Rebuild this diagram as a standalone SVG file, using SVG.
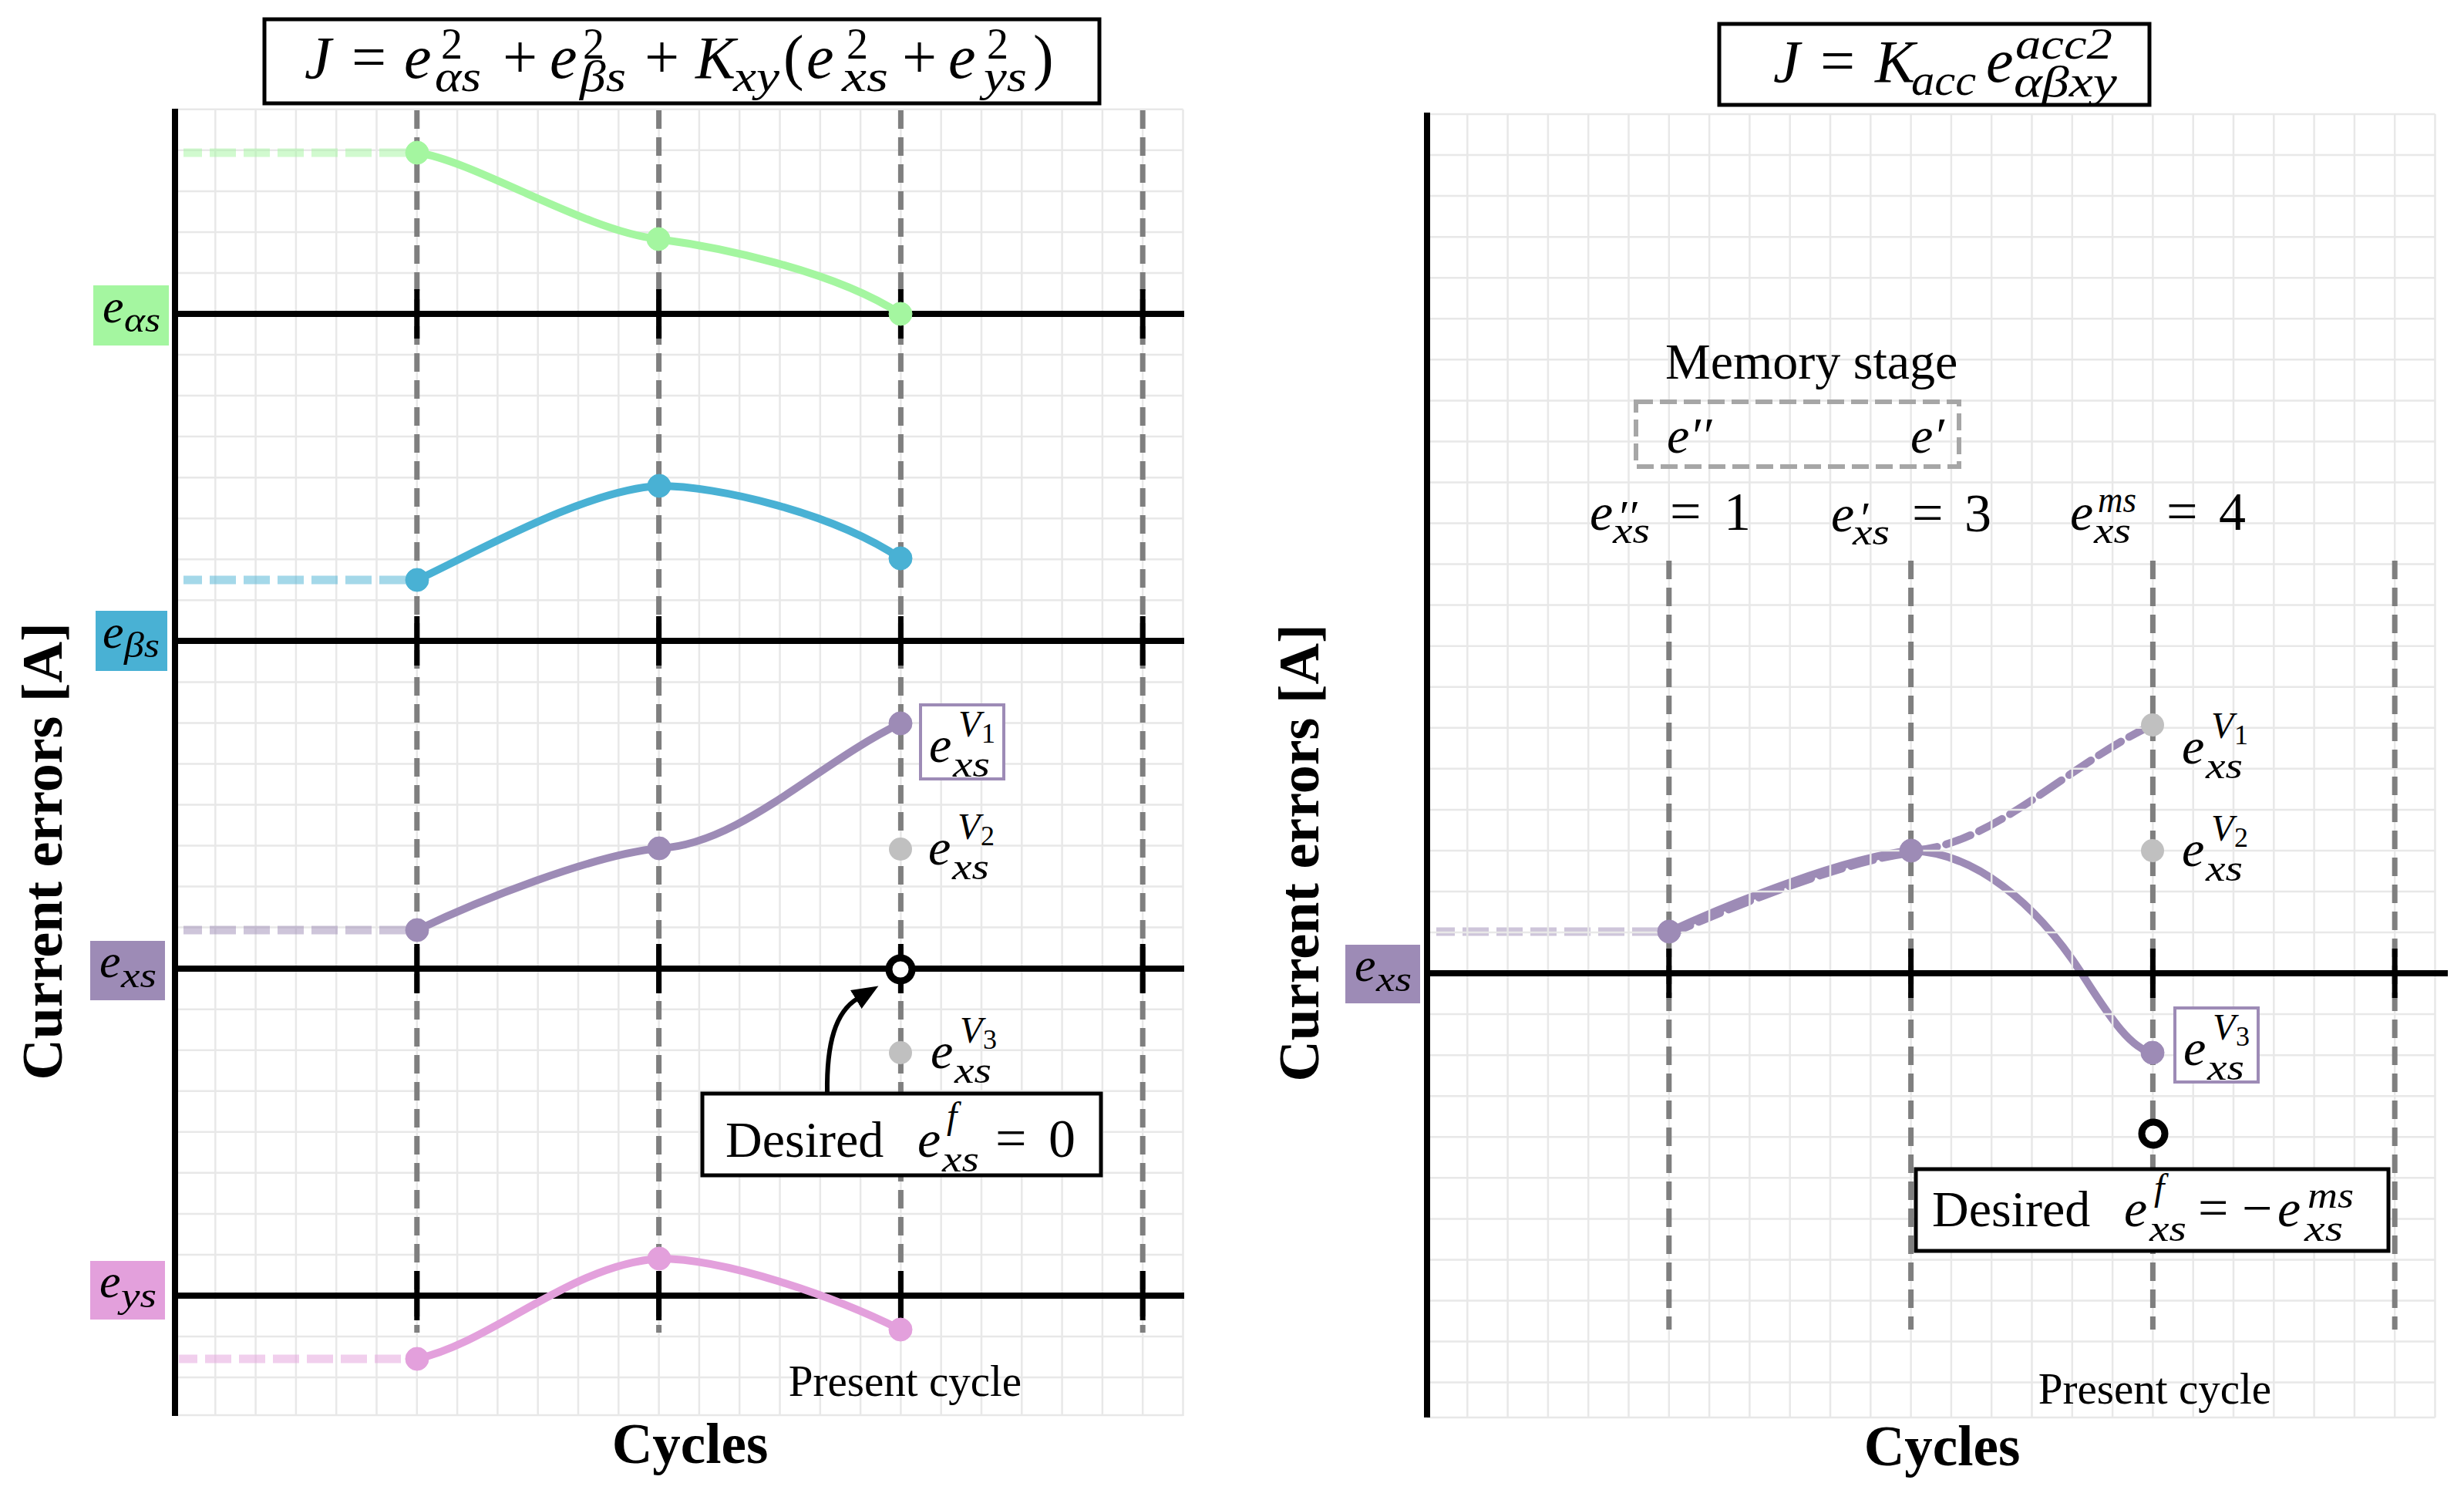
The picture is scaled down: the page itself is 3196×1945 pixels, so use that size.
<svg xmlns="http://www.w3.org/2000/svg" width="3196" height="1945" viewBox="0 0 3196 1945">
<style>
.grid{stroke:#e8e8e8;stroke-width:2.5;fill:none}
.axis{stroke:#000;stroke-width:8;fill:none}
.tick{stroke:#000;stroke-width:7;fill:none}
.vd{stroke:#7f7f7f;stroke-width:7;stroke-dasharray:24 11;fill:none}
.lead{stroke-width:11;stroke-dasharray:34 10;stroke-dashoffset:10;opacity:.5;fill:none}
.cv{fill:none;stroke-width:10;stroke-linecap:round}
.m{font-family:"Liberation Serif","DejaVu Serif",serif;font-style:italic;fill:#000}
.r{font-family:"Liberation Serif","DejaVu Serif",serif;fill:#000}
.b{font-family:"Liberation Serif","DejaVu Serif",serif;font-weight:bold;fill:#000}
.box{fill:#fff;stroke:#000;stroke-width:5}
.vbox{fill:#fff;stroke:#9d8bb6;stroke-width:4}
.g{fill:#a4f6a0;stroke:#a4f6a0}
.bl{fill:#49b1d4;stroke:#49b1d4}
.pu{fill:#9d8bb6;stroke:#9d8bb6}
.pk{fill:#e3a0dc;stroke:#e3a0dc}
.gd{fill:#c0c0c0}
.oc{fill:#fff;stroke:#000;stroke-width:9}
</style>
<defs>
<marker id="ah" markerUnits="userSpaceOnUse" markerWidth="40" markerHeight="40" viewBox="0 0 40 40" refX="2" refY="20" orient="auto">
<path d="M0,6 L34,20 L0,34 z" fill="#000"/>
</marker>
</defs>
<rect width="3196" height="1945" fill="#fff"/>

<g id="left-panel">
<path class="grid" d="M279.3 142V1836M331.6 142V1836M383.9 142V1836M436.2 142V1836M488.5 142V1836M540.8 142V1836M593.1 142V1836M645.4 142V1836M697.7 142V1836M750 142V1836M802.3 142V1836M854.6 142V1836M906.9 142V1836M959.2 142V1836M1011.5 142V1836M1063.8 142V1836M1116.1 142V1836M1168.4 142V1836M1220.7 142V1836M1273 142V1836M1325.3 142V1836M1377.6 142V1836M1429.9 142V1836M1482.2 142V1836M1534.5 142V1836
M227 141.8H1534.5M227 194.8H1534.5M227 247.9H1534.5M227 300.9H1534.5M227 354H1534.5M227 460H1534.5M227 513.1H1534.5M227 566.1H1534.5M227 619.2H1534.5M227 672.2H1534.5M227 725.2H1534.5M227 778.3H1534.5M227 884.4H1534.5M227 937.4H1534.5M227 990.4H1534.5M227 1043.5H1534.5M227 1096.5H1534.5M227 1149.6H1534.5M227 1202.6H1534.5M227 1308.7H1534.5M227 1361.7H1534.5M227 1414.8H1534.5M227 1467.8H1534.5M227 1520.8H1534.5M227 1573.9H1534.5M227 1626.9H1534.5M227 1733H1534.5M227 1786H1534.5M227 1835H1534.5"/>
<path class="vd" d="M540.8 143V1728M854.6 143V1728M1168.4 143V1728M1482.2 143V1728"/>
<path class="axis" d="M227 141V1836M227 407H1536M227 831H1536M227 1256H1536M227 1680H1536"/>
<path class="tick" d="M540.8 375V439M854.6 375V439M1168.4 375V439M1482.2 375V439M540.8 799V863M854.6 799V863M1168.4 799V863M1482.2 799V863M540.8 1224V1288M854.6 1224V1288M1168.4 1224V1288M1482.2 1224V1288M540.8 1648V1712M854.6 1648V1712M1168.4 1648V1712M1482.2 1648V1712"/>
</g>

<g id="formula-left">
<rect class="box" x="343" y="25" width="1083" height="109"/>
<text class="m" x="395" y="101" font-size="78">J</text>
<text class="r" x="456" y="101" font-size="80">=</text>
<text class="m" x="524" y="101" font-size="80">e</text>
<text class="r" x="572" y="76" font-size="56">2</text>
<text class="m" x="564" y="118" font-size="56" textLength="60" lengthAdjust="spacingAndGlyphs">αs</text>
<text class="r" x="652" y="101" font-size="80">+</text>
<text class="m" x="713" y="101" font-size="80">e</text>
<text class="r" x="756" y="76" font-size="56">2</text>
<text class="m" x="752" y="118" font-size="56" textLength="60" lengthAdjust="spacingAndGlyphs">βs</text>
<text class="r" x="836" y="101" font-size="80">+</text>
<text class="m" x="902" y="101" font-size="78">K</text>
<text class="m" x="951" y="118" font-size="56" textLength="60" lengthAdjust="spacingAndGlyphs">xy</text>
<text class="r" x="1016" y="101" font-size="80">(</text>
<text class="m" x="1046" y="101" font-size="80">e</text>
<text class="r" x="1098" y="76" font-size="56">2</text>
<text class="m" x="1092" y="118" font-size="56" textLength="60" lengthAdjust="spacingAndGlyphs">xs</text>
<text class="r" x="1170" y="101" font-size="80">+</text>
<text class="m" x="1230" y="101" font-size="80">e</text>
<text class="r" x="1280" y="76" font-size="56">2</text>
<text class="m" x="1276" y="118" font-size="56" textLength="56" lengthAdjust="spacingAndGlyphs">ys</text>
<text class="r" x="1340" y="101" font-size="80">)</text>
</g>

<g id="label-eas"><rect x="121" y="370" width="98" height="78" fill="#a4f6a0"/><text class="m" x="133" y="418" font-size="62">e</text><text class="m" x="161" y="430" font-size="46" textLength="47" lengthAdjust="spacingAndGlyphs">αs</text></g>
<g id="label-ebs"><rect x="124" y="792" width="93" height="78" fill="#49b1d4"/><text class="m" x="133" y="840" font-size="62">e</text><text class="m" x="161" y="852" font-size="46" textLength="46" lengthAdjust="spacingAndGlyphs">βs</text></g>
<g id="label-exs-left"><rect x="117" y="1220" width="97" height="77" fill="#9d8bb6"/><text class="m" x="129" y="1267" font-size="62">e</text><text class="m" x="157" y="1280" font-size="46" textLength="46" lengthAdjust="spacingAndGlyphs">xs</text></g>
<g id="label-eys"><rect x="117" y="1635" width="97" height="76" fill="#e3a0dc"/><text class="m" x="129" y="1682" font-size="62">e</text><text class="m" x="157" y="1695" font-size="46" textLength="46" lengthAdjust="spacingAndGlyphs">ys</text></g>

<g id="lead-ins">
<path class="lead" stroke="#a4f6a0" d="M238 198H541"/>
<path class="lead" stroke="#49b1d4" d="M238 752H541"/>
<path class="lead" stroke="#9d8bb6" d="M238 1206H541"/>
<path class="lead" stroke="#e3a0dc" d="M232 1762H541"/>
<path class="lead" stroke="#9d8bb6" d="M1863 1208H2165"/>
</g>

<g id="connectors">
<path class="cv" stroke="#a4f6a0" d="M541,198 C615,208 760,300 854,310 C930,320 1080,350 1168,407"/>
<path class="cv" stroke="#49b1d4" d="M541,752 C620,715 760,635 855,630 C930,630 1080,665 1168,724"/>
<path class="cv" stroke="#9d8bb6" d="M541,1206 C620,1168 770,1108 855,1100 C960,1095 1060,990 1168,938"/>
<path class="cv" stroke="#e3a0dc" d="M541,1762 C640,1740 740,1640 855,1632 C940,1632 1080,1680 1168,1724"/>
<path class="cv" stroke="#9d8bb6" d="M2165,1208 C2245,1171 2395,1111 2479,1103 C2560,1105 2640,1170 2700,1262 C2740,1325 2765,1360 2792,1365"/>
<path class="cv" stroke="#9d8bb6" stroke-dasharray="30 12" stroke-linecap="butt" d="M2165,1212 C2245,1177 2395,1115 2479,1106"/>
<path class="cv" stroke="#9d8bb6" stroke-dasharray="34 12" stroke-linecap="butt" d="M2479,1103 C2584,1098 2684,990 2792,940"/>
<path d="M1073,1417 C1072,1352 1084,1312 1112,1295" fill="none" stroke="#000" stroke-width="6" marker-end="url(#ah)"/>
</g>

<g id="dots-left">
<circle class="g" cx="541" cy="198" r="15"/><circle class="g" cx="854" cy="310" r="15"/><circle class="g" cx="1168" cy="407" r="15"/>
<circle class="bl" cx="541" cy="752" r="15"/><circle class="bl" cx="855" cy="630" r="15"/><circle class="bl" cx="1168" cy="724" r="15"/>
<circle class="pu" cx="541" cy="1206" r="15"/><circle class="pu" cx="855" cy="1100" r="15"/><circle class="pu" cx="1168" cy="938" r="15"/>
<circle class="gd" cx="1168" cy="1101" r="15"/><circle class="gd" cx="1168" cy="1365" r="15"/>
<circle class="pk" cx="541" cy="1762" r="15"/><circle class="pk" cx="855" cy="1632" r="15"/><circle class="pk" cx="1168" cy="1724" r="15"/>
<circle class="oc" cx="1168" cy="1257" r="15"/>
</g>

<g id="v-labels-left">
<rect class="vbox" x="1194" y="914" width="108" height="96"/>
<text class="m" x="1205" y="988" font-size="66">e</text><text class="m" x="1243" y="955" font-size="48">V</text><text class="r" x="1273" y="963" font-size="36">1</text><text class="m" x="1236" y="1007" font-size="48" textLength="48" lengthAdjust="spacingAndGlyphs">xs</text>
<text class="m" x="1204" y="1121" font-size="66">e</text><text class="m" x="1242" y="1088" font-size="48">V</text><text class="r" x="1272" y="1096" font-size="36">2</text><text class="m" x="1235" y="1140" font-size="48" textLength="48" lengthAdjust="spacingAndGlyphs">xs</text>
<text class="m" x="1207" y="1385" font-size="66">e</text><text class="m" x="1245" y="1352" font-size="48">V</text><text class="r" x="1275" y="1360" font-size="36">3</text><text class="m" x="1238" y="1404" font-size="48" textLength="48" lengthAdjust="spacingAndGlyphs">xs</text>
</g>

<g id="desired-left">
<rect class="box" x="911" y="1418" width="517" height="106"/>
<text class="r" x="941" y="1500" font-size="66">Desired</text>
<text class="m" x="1190" y="1500" font-size="68">e</text><text class="m" x="1228" y="1463" font-size="48">f</text><text class="m" x="1222" y="1519" font-size="48" textLength="48" lengthAdjust="spacingAndGlyphs">xs</text>
<text class="r" x="1291" y="1500" font-size="72">=</text><text class="r" x="1360" y="1500" font-size="70">0</text>
</g>

<text class="r" x="1174" y="1810" font-size="57" text-anchor="middle">Present cycle</text>
<text class="b" x="895" y="1897" font-size="73" text-anchor="middle">Cycles</text>
<text class="b" x="80" y="1104" font-size="74" text-anchor="middle" transform="rotate(-90 80 1104)">Current errors [A]</text>

<g id="right-panel">
<path class="grid" d="M1903.3 148V1838M1955.6 148V1838M2007.9 148V1838M2060.2 148V1838M2112.5 148V1838M2164.8 148V1838M2217.1 148V1838M2269.4 148V1838M2321.7 148V1838M2374 148V1838M2426.3 148V1838M2478.6 148V1838M2530.9 148V1838M2583.2 148V1838M2635.5 148V1838M2687.8 148V1838M2740.1 148V1838M2792.4 148V1838M2844.7 148V1838M2897 148V1838M2949.3 148V1838M3001.6 148V1838M3053.9 148V1838M3106.2 148V1838M3158.5 148V1838
M1851 148H3158.5M1851 201H3158.5M1851 254.1H3158.5M1851 307.2H3158.5M1851 360.2H3158.5M1851 413.3H3158.5M1851 466.3H3158.5M1851 519.4H3158.5M1851 572.4H3158.5M1851 625.5H3158.5M1851 678.5H3158.5M1851 731.6H3158.5M1851 784.6H3158.5M1851 837.7H3158.5M1851 890.7H3158.5M1851 943.8H3158.5M1851 996.8H3158.5M1851 1049.9H3158.5M1851 1102.9H3158.5M1851 1156H3158.5M1851 1209H3158.5M1851 1315.1H3158.5M1851 1368.2H3158.5M1851 1421.2H3158.5M1851 1474.3H3158.5M1851 1527.3H3158.5M1851 1580.4H3158.5M1851 1633.4H3158.5M1851 1686.5H3158.5M1851 1739.5H3158.5M1851 1792.6H3158.5M1851 1838H3158.5"/>
<path class="vd" d="M2164.8 727V1724M2478.6 727V1724M2792.4 727V1724M3106.2 727V1724"/>
<path class="axis" d="M1851 146V1838M1851 1262H3175"/>
<path class="tick" d="M2164.8 1230V1294M2478.6 1230V1294M2792.4 1230V1294M3106.2 1230V1294"/>
</g>

<g id="formula-right">
<rect class="box" x="2230" y="31" width="558" height="105"/>
<text class="m" x="2300" y="106" font-size="78">J</text>
<text class="r" x="2361" y="106" font-size="80">=</text>
<text class="m" x="2432" y="106" font-size="78">K</text>
<text class="m" x="2479" y="123" font-size="56" textLength="84" lengthAdjust="spacingAndGlyphs">acc</text>
<text class="m" x="2576" y="106" font-size="80">e</text>
<text class="m" x="2614" y="76" font-size="56" textLength="126" lengthAdjust="spacingAndGlyphs">acc2</text>
<text class="m" x="2612" y="125" font-size="56" textLength="134" lengthAdjust="spacingAndGlyphs">αβxy</text>
</g>

<g id="label-exs-right"><rect x="1745" y="1225" width="97" height="76" fill="#9d8bb6"/><text class="m" x="1757" y="1272" font-size="62">e</text><text class="m" x="1785" y="1285" font-size="46" textLength="46" lengthAdjust="spacingAndGlyphs">xs</text></g>

<g id="memory-stage">
<text class="r" x="2160" y="491" font-size="66">Memory stage</text>
<rect x="2122" y="521" width="419" height="84" fill="none" stroke="#a6a6a6" stroke-width="6" stroke-dasharray="22 9"/>
<text class="m" x="2162" y="587" font-size="66">e′′</text>
<text class="m" x="2478" y="587" font-size="66">e′</text>
</g>

<g id="cycle-values">
<text class="m" x="2062" y="687" font-size="68">e</text><text class="m" x="2097" y="690" font-size="60">′′</text><text class="m" x="2092" y="704" font-size="48" textLength="48" lengthAdjust="spacingAndGlyphs">xs</text><text class="r" x="2166" y="687" font-size="72">=</text><text class="r" x="2236" y="687" font-size="70">1</text>
<text class="m" x="2375" y="689" font-size="68">e</text><text class="m" x="2410" y="692" font-size="60">′</text><text class="m" x="2403" y="706" font-size="48" textLength="48" lengthAdjust="spacingAndGlyphs">xs</text><text class="r" x="2480" y="689" font-size="72">=</text><text class="r" x="2548" y="689" font-size="70">3</text>
<text class="m" x="2685" y="687" font-size="68">e</text><text class="m" x="2721" y="664" font-size="48" textLength="50" lengthAdjust="spacingAndGlyphs">ms</text><text class="m" x="2716" y="704" font-size="48" textLength="48" lengthAdjust="spacingAndGlyphs">xs</text><text class="r" x="2810" y="687" font-size="72">=</text><text class="r" x="2878" y="687" font-size="70">4</text>
</g>

<g id="dots-right">
<circle class="pu" cx="2165" cy="1208" r="15"/><circle class="pu" cx="2479" cy="1103" r="15"/><circle class="pu" cx="2792" cy="1365" r="15"/>
<circle class="gd" cx="2792" cy="940" r="15"/><circle class="gd" cx="2792" cy="1103" r="15"/>
<circle class="oc" cx="2793" cy="1470" r="15"/>
</g>

<g id="v-labels-right">
<text class="m" x="2830" y="990" font-size="66">e</text><text class="m" x="2868" y="957" font-size="48">V</text><text class="r" x="2898" y="965" font-size="36">1</text><text class="m" x="2861" y="1009" font-size="48" textLength="48" lengthAdjust="spacingAndGlyphs">xs</text>
<text class="m" x="2830" y="1123" font-size="66">e</text><text class="m" x="2868" y="1090" font-size="48">V</text><text class="r" x="2898" y="1098" font-size="36">2</text><text class="m" x="2861" y="1142" font-size="48" textLength="48" lengthAdjust="spacingAndGlyphs">xs</text>
<rect class="vbox" x="2821" y="1307" width="108" height="96"/>
<text class="m" x="2832" y="1381" font-size="66">e</text><text class="m" x="2870" y="1348" font-size="48">V</text><text class="r" x="2900" y="1356" font-size="36">3</text><text class="m" x="2863" y="1400" font-size="48" textLength="48" lengthAdjust="spacingAndGlyphs">xs</text>
</g>

<g id="desired-right">
<rect class="box" x="2485" y="1516" width="613" height="106"/>
<text class="r" x="2506" y="1590" font-size="66">Desired</text>
<text class="m" x="2755" y="1590" font-size="68">e</text><text class="m" x="2794" y="1556" font-size="48">f</text><text class="m" x="2788" y="1609" font-size="48" textLength="48" lengthAdjust="spacingAndGlyphs">xs</text>
<text class="r" x="2851" y="1590" font-size="70">=</text><text class="r" x="2908" y="1590" font-size="70">−</text>
<text class="m" x="2954" y="1590" font-size="68">e</text><text class="m" x="2993" y="1566" font-size="48" textLength="60" lengthAdjust="spacingAndGlyphs">ms</text><text class="m" x="2989" y="1609" font-size="48" textLength="50" lengthAdjust="spacingAndGlyphs">xs</text>
</g>

<text class="r" x="2795" y="1820" font-size="57" text-anchor="middle">Present cycle</text>
<text class="b" x="2519" y="1900" font-size="73" text-anchor="middle">Cycles</text>
<text class="b" x="1710" y="1106" font-size="74" text-anchor="middle" transform="rotate(-90 1710 1106)">Current errors [A]</text>
</svg>
